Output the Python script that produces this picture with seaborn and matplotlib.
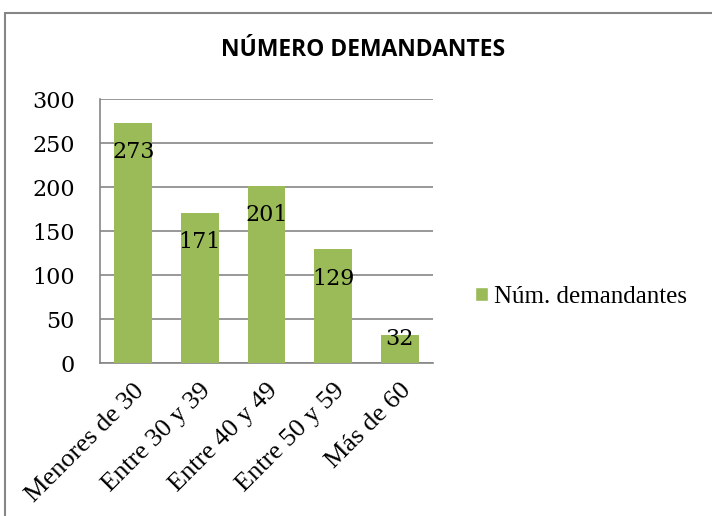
import seaborn as sns
import matplotlib.pyplot as plt
import pandas as pd
from matplotlib.patches import Rectangle, Patch

categorias = ["Menores de 30", "Entre 30 y 39", "Entre 40 y 49", "Entre 50 y 59", "Más de 60"]
demandantes = [273, 171, 201, 129, 32]
titulo = "NÚMERO DEMANDANTES"
serie = "Núm. demandantes"

df = pd.DataFrame({"edad": categorias, "n": demandantes})
verde = "#9BBB59"
gris = "#868686"

sns.set_style("white")
plt.rcParams["font.family"] = ["Liberation Serif", "DejaVu Serif"]
plt.rcParams["text.color"] = "black"
num_font = ["DejaVu Serif"]

fig = plt.figure(figsize=(7.12, 5.16), dpi=100)
ax = fig.add_axes([100 / 712, 1 - 363 / 516, 333 / 712, 264 / 516])

sns.barplot(data=df, x="edad", y="n", color=verde, saturation=1, width=0.57,
            linewidth=0, ax=ax, zorder=3)
ax.set_ylim(0, 300)
ax.set_yticks(range(0, 301, 50))
ax.yaxis.grid(True, color=gris, linewidth=1.2, zorder=0)
ax.set_axisbelow(True)
for s in ["top", "right"]:
    ax.spines[s].set_visible(False)
for s in ["left", "bottom"]:
    ax.spines[s].set_color(gris)
    ax.spines[s].set_linewidth(1.2)
ax.set_xlabel("")
ax.set_ylabel("")
ax.tick_params(axis="y", labelsize=16, pad=18, length=0, labelcolor="black")
ax.tick_params(axis="x", labelsize=19, pad=12, length=0, labelcolor="black")
for lab in ax.get_yticklabels():
    lab.set_family(num_font)
for lab in ax.get_xticklabels():
    lab.set_rotation(45)
    lab.set_ha("right")
    lab.set_rotation_mode("anchor")

for p, v in zip(ax.patches, demandantes):
    off = -21 if v > 60 else -3
    ax.annotate(str(v), (p.get_x() + p.get_width() / 2, v), xytext=(0, off),
                textcoords="offset points", ha="center", va="center", fontsize=16,
                family=num_font, zorder=4)

fig.text(363 / 712, 1 - 50 / 516, titulo, ha="center", va="center", color="black",
         fontsize=16.5, fontweight="bold", family=["Open Sans", "DejaVu Sans"])

leg = fig.legend(handles=[Patch(facecolor=verde, label=serie)], loc="center left",
                 bbox_to_anchor=(475 / 712, 1 - 297 / 516), frameon=False, fontsize=18,
                 handlelength=0.52, handleheight=0.52, handletextpad=0.25,
                 borderpad=0, borderaxespad=0)

fig.patches.append(Rectangle((5 / 712, -0.1), 1.1, 1 - 13 / 516 + 0.1, transform=fig.transFigure,
                             fill=False, edgecolor=gris, linewidth=1.5))

fig.savefig("out.png", dpi=100)
